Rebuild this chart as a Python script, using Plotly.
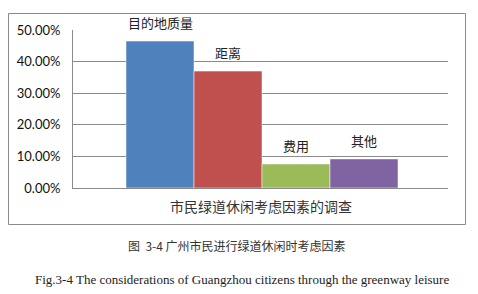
import plotly.graph_objects as go

categories = ["目的地质量", "距离", "费用", "其他"]
values = [0.465, 0.370, 0.076, 0.092]
colors = ["#4F81BD", "#C0504D", "#9BBB59", "#8064A2"]
positions = [0, 1, 2, 3]
x_title = "市民绿道休闲考虑因素的调查"
caption_cn = "图  3-4 广州市民进行绿道休闲时考虑因素"
caption_en = "Fig.3-4 The considerations of Guangzhou citizens through the greenway leisure"

W, H = 478, 294
L, R, T, B = 73, 30, 30, 106
pw, ph = W - L - R, H - T - B

def px_x(p):
    return (p - L) / pw

def px_y(p):
    return (H - B - p) / ph

bar_px = 68.0
x_lo = -0.5 - (126 - L) / bar_px
x_hi = 3.5 + (W - R - 398) / bar_px

fig = go.Figure()
fig.add_trace(go.Bar(
    x=positions, y=values, width=1,
    marker=dict(color=colors, line=dict(color="#ffffff", width=0.5)),
    hoverinfo="skip",
))
for xp, v, name in zip(positions, values, categories):
    fig.add_annotation(x=xp, y=v, xref="x", yref="y", text=name, showarrow=False,
                       xanchor="center", yanchor="bottom", yshift=7,
                       font=dict(family="Noto Sans CJK SC", size=13, color="#222222"))

fig.update_layout(
    width=W, height=H, margin=dict(l=L, r=R, t=T, b=B),
    paper_bgcolor="white", plot_bgcolor="white",
    showlegend=False,
    xaxis=dict(range=[x_lo, x_hi], showticklabels=False, showline=True, linecolor="#8a8a8a",
               linewidth=1, ticks="", title=None, showgrid=False, zeroline=False),
    yaxis=dict(range=[0, 0.5], dtick=0.1, tickformat=".2%", showgrid=True,
               gridcolor="#8a8a8a", gridwidth=1, showline=True, linecolor="#8a8a8a",
               linewidth=1, ticks="", ticklen=0, ticklabelstandoff=9,
               tickfont=dict(family="Lato", size=13, color="#111111"),
               zeroline=False),
)

fig.add_shape(type="rect", xref="paper", yref="paper",
              x0=px_x(8.5), x1=px_x(465.5), y0=px_y(224.5), y1=px_y(13.5),
              line=dict(color="#8a8a8a", width=1), layer="below")

fig.add_annotation(text=x_title, xref="paper", yref="paper", x=px_x(261), y=px_y(206),
                   showarrow=False, xanchor="center", yanchor="middle",
                   font=dict(family="Noto Sans CJK SC", size=14, color="#333333"))
fig.add_annotation(text=caption_cn, xref="paper", yref="paper", x=px_x(237), y=px_y(245),
                   showarrow=False, xanchor="center", yanchor="middle",
                   font=dict(family="Noto Sans CJK SC", size=12, color="#333333"))
fig.add_annotation(text=caption_en, xref="paper", yref="paper", x=px_x(242), y=px_y(279),
                   showarrow=False, xanchor="center", yanchor="middle",
                   font=dict(family="Liberation Serif", size=13, color="#222222"))

fig.write_html("out.html")
